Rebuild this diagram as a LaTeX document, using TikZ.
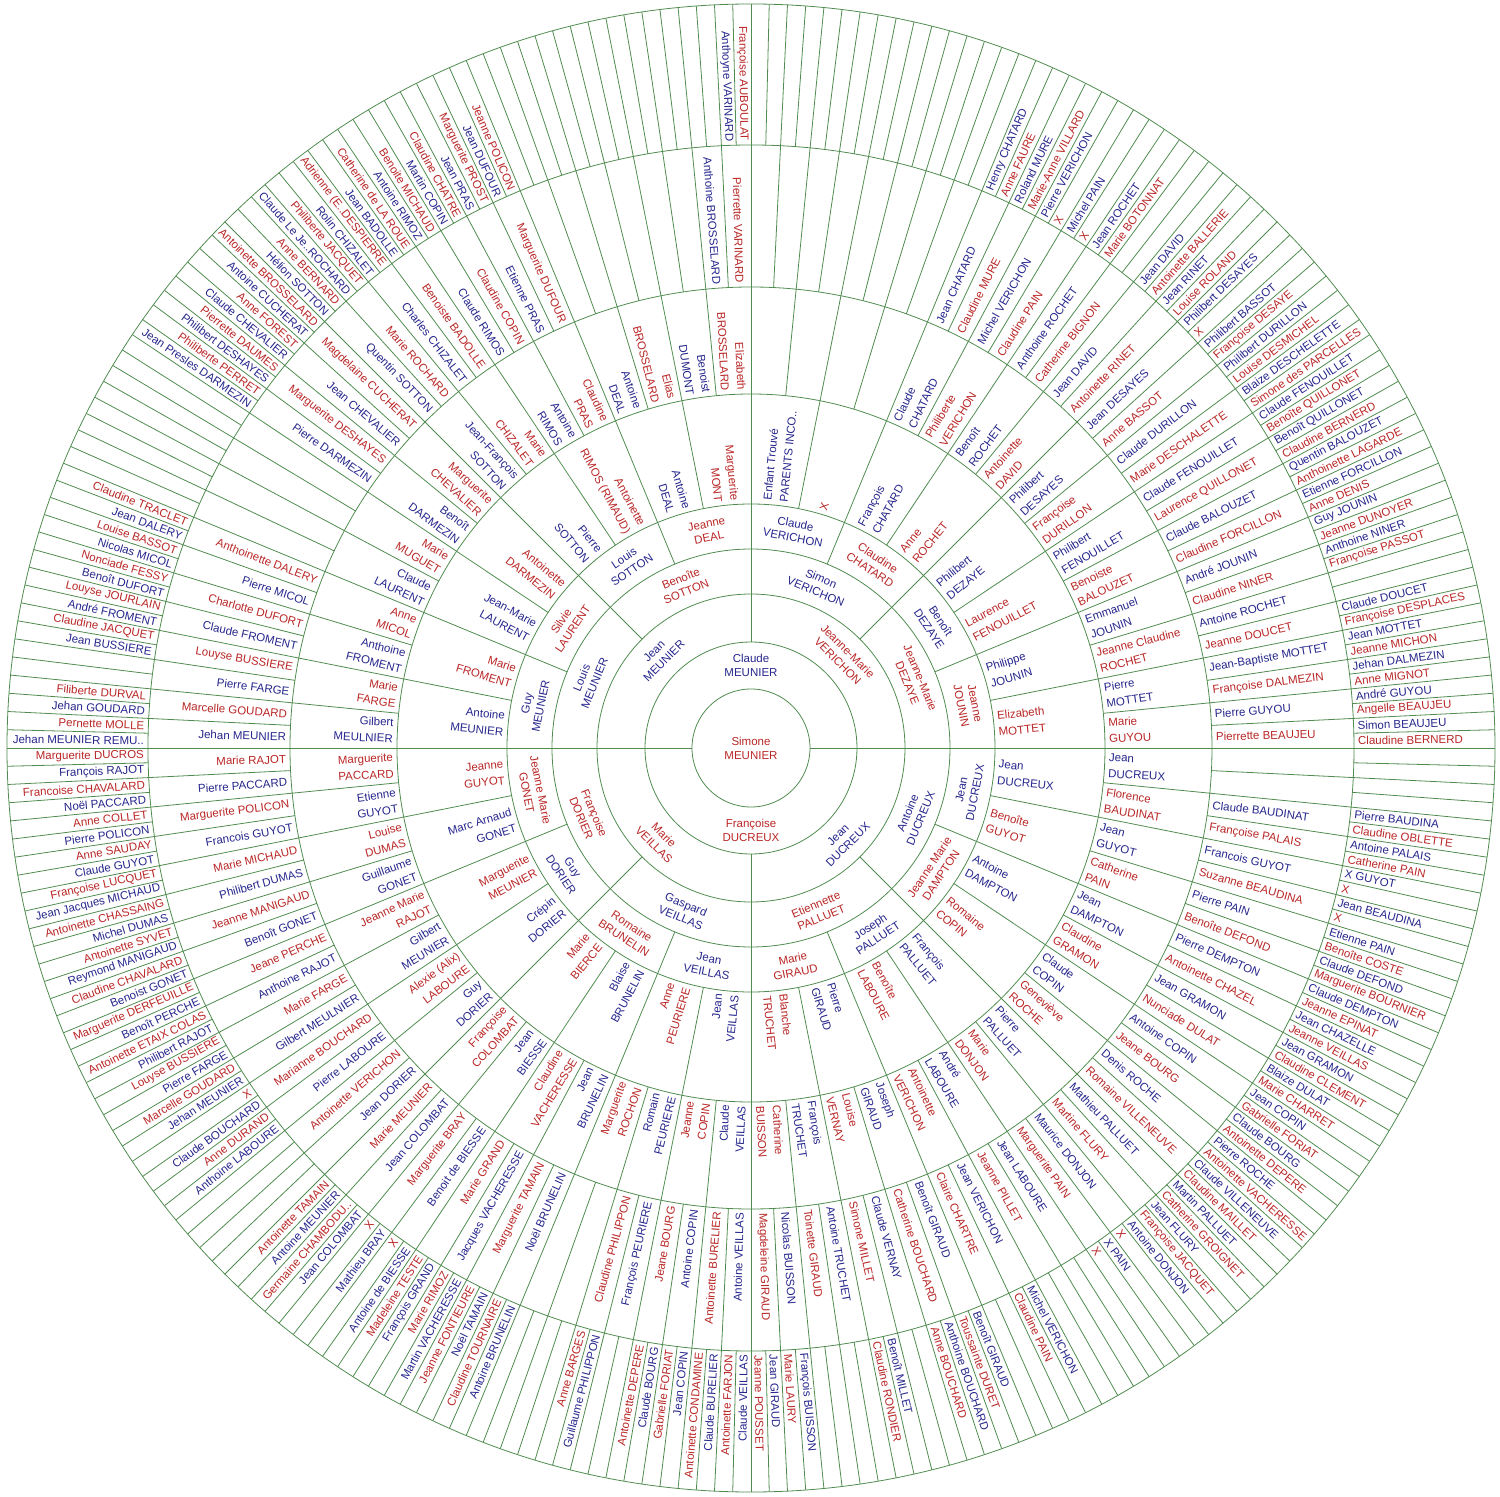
\documentclass[tikz,border=0pt]{standalone}
\usepackage{fontspec}
\setmainfont{Liberation Sans}
\definecolor{Father}{RGB}{38,38,140}
\definecolor{Mother}{RGB}{185,38,38}
\definecolor{Frame}{RGB}{80,140,80}
\newcommand{\ringin}[1]{\ifcase#1\or0\or59\or106\or154\or199\or244\or354\or461\or603\fi}
\newcommand{\ringout}[1]{\ifcase#1\or59\or106\or154\or199\or244\or354\or461\or603\or744\fi}
\newcommand{\tangname}[4]{%
  \pgfmathsetmacro{\ang}{180-(#2+0.5)/2^(#1-1)*360}%
  \pgfmathsetmacro{\rmid}{(\ringin{#1}+\ringout{#1})/2}%
  \pgfmathsetmacro{\tilt}{\ang>0 ? \ang-90 : \ang+90}%
  \ifodd#2\def\tone{Mother}\else\def\tone{Father}\fi
  \node[arcname,text=\tone,rotate=\tilt] (g#1-#2) at (\ang:\rmid) {#3\\#4};
}
\newcommand{\radname}[3]{%
  \pgfmathsetmacro{\ang}{180-(#2+0.5)/2^(#1-1)*360}%
  \pgfmathsetmacro{\rstart}{\ringin{#1}+4}%
  \pgfmathtruncatemacro{\side}{abs(\ang)<90}%
  \ifodd#2\def\tone{Mother}\else\def\tone{Father}\fi
  \ifnum\side=1
    \node[spokename,text=\tone,rotate=\ang,anchor=west,align=left] (g#1-#2) at (\ang:\rstart) {#3};
  \else
    \pgfmathsetmacro{\flip}{\ang-180}%
    \node[spokename,text=\tone,rotate=\flip,anchor=east,align=right] (g#1-#2) at (\ang:\rstart) {#3};
  \fi
}

\begin{document}
\begin{tikzpicture}[x=1pt,y=1pt,
  arcname/.style={inner sep=0pt,align=center,font=\fontsize{11.5}{14}\selectfont},
  spokename/.style={inner sep=0pt,font=\fontsize{11.5}{16.5}\selectfont},
  fanline/.style={Frame,line width=.8pt}]
\path[use as bounding box] (-751,-749) rectangle (749,748);
% rings and spokes
\foreach \r in {59,106,154,199,244,354,461,603,744}
  \draw[fanline] (0,0) circle (\r);
\draw[fanline] (-744,0) -- (-59,0) (59,0) -- (744,0);
\foreach \n/\rin in {4/106,8/154,16/199,32/244,64/354,128/461,256/603}{
  \pgfmathtruncatemacro{\last}{\n/2-1}
  \foreach \m in {0,...,\last}{
    \pgfmathsetmacro{\spoke}{(2*\m+1)/\n*360}
    \draw[fanline] (\spoke:\rin) -- (\spoke:744);
  }
}

\node[arcname,text=Mother] (g1-0) at (0,0) {Simone\\MEUNIER};
\tangname{2}{0}{Claude}{MEUNIER}
\tangname{2}{1}{Françoise}{DUCREUX}

\tangname{3}{0}{Jean}{MEUNIER}
\tangname{3}{1}{Jeanne-Marie}{VERICHON}
\tangname{3}{2}{Jean}{DUCREUX}
\tangname{3}{3}{Marie}{VEILLAS}

\tangname{4}{0}{Louis}{MEUNIER}
\tangname{4}{1}{Benoîte}{SOTTON}
\tangname{4}{2}{Simon}{VERICHON}
\tangname{4}{3}{Jeanne-Marie}{DEZAYE}
\tangname{4}{4}{Antoine}{DUCREUX}
\tangname{4}{5}{Etiennette}{PALLUET}
\tangname{4}{6}{Gaspard}{VEILLAS}
\tangname{4}{7}{Françoise}{DORIER}

\tangname{5}{0}{Guy}{MEUNIER}
\tangname{5}{1}{Silvie}{LAURENT}
\tangname{5}{2}{Louis}{SOTTON}
\tangname{5}{3}{Jeanne}{DEAL}
\tangname{5}{4}{Claude}{VERICHON}
\tangname{5}{5}{Claudine}{CHATARD}
\tangname{5}{6}{Benoît}{DEZAYE}
\tangname{5}{7}{Jeanne}{JOUNIN}
\tangname{5}{8}{Jean}{DUCREUX}
\tangname{5}{9}{Jeanne Marie}{DAMPTON}
\tangname{5}{10}{Joseph}{PALLUET}
\tangname{5}{11}{Marie}{GIRAUD}
\tangname{5}{12}{Jean}{VEILLAS}
\tangname{5}{13}{Romaine}{BRUNELIN}
\tangname{5}{14}{Guy}{DORIER}
\tangname{5}{15}{Jeanne Marie}{GONET}

\radname{6}{0}{Antoine\\MEUNIER}
\radname{6}{1}{Marie\\FROMENT}
\radname{6}{2}{Jean-Marie\\LAURENT}
\radname{6}{3}{Antoinette\\DARMEZIN}
\radname{6}{4}{Pierre\\SOTTON}
\radname{6}{5}{Antoinette\\RIMOS (RIMAUD)}
\radname{6}{6}{Antoine\\DEAL}
\radname{6}{7}{Marguerite\\MONT}
\radname{6}{8}{Enfant Trouvé\\PARENTS INCO..}
\radname{6}{9}{X}
\radname{6}{10}{François\\CHATARD}
\radname{6}{11}{Anne\\ROCHET}
\radname{6}{12}{Philibert\\DEZAYE}
\radname{6}{13}{Laurence\\FENOUILLET}
\radname{6}{14}{Philippe\\JOUNIN}
\radname{6}{15}{Elizabeth\\MOTTET}
\radname{6}{16}{Jean\\DUCREUX}
\radname{6}{17}{Benoîte\\GUYOT}
\radname{6}{18}{Antoine\\DAMPTON}
\radname{6}{19}{Romaine\\COPIN}
\radname{6}{20}{François\\PALLUET}
\radname{6}{21}{Benoîte\\LABOURE}
\radname{6}{22}{Pierre\\GIRAUD}
\radname{6}{23}{Blanche\\TRUCHET}
\radname{6}{24}{Jean\\VEILLAS}
\radname{6}{25}{Anne\\PEURIERE}
\radname{6}{26}{Blaise\\BRUNELIN}
\radname{6}{27}{Marie\\BIERCE}
\radname{6}{28}{Crépin\\DORIER}
\radname{6}{29}{Marguerite\\MEUNIER}
\radname{6}{30}{Marc Arnaud\\GONET}
\radname{6}{31}{Jeanne\\GUYOT}

\radname{7}{0}{Gilbert\\MEULNIER}
\radname{7}{1}{Marie\\FARGE}
\radname{7}{2}{Anthoine\\FROMENT}
\radname{7}{3}{Anne\\MICOL}
\radname{7}{4}{Claude\\LAURENT}
\radname{7}{5}{Marie\\MUGUET}
\radname{7}{6}{Benoît\\DARMEZIN}
\radname{7}{7}{Marguerite\\CHEVALIER}
\radname{7}{8}{Jean-François\\SOTTON}
\radname{7}{9}{Marie\\CHIZALET}
\radname{7}{10}{Antoine\\RIMOS}
\radname{7}{11}{Claudine\\PRAS}
\radname{7}{12}{Antoine\\DEAL}
\radname{7}{13}{Elias\\BROSSELARD}
\radname{7}{14}{Benoist\\DUMONT}
\radname{7}{15}{Elizabeth\\BROSSELARD}
\radname{7}{20}{Claude\\CHATARD}
\radname{7}{21}{Philiberte\\VERICHON}
\radname{7}{22}{Benoît\\ROCHET}
\radname{7}{23}{Antoinette\\DAVID}
\radname{7}{24}{Philibert\\DESAYES}
\radname{7}{25}{Françoise\\DURILLON}
\radname{7}{26}{Philibert\\FENOUILLET}
\radname{7}{27}{Benoiste\\BALOUZET}
\radname{7}{28}{Emmanuel\\JOUNIN}
\radname{7}{29}{Jeanne Claudine\\ROCHET}
\radname{7}{30}{Pierre\\MOTTET}
\radname{7}{31}{Marie\\GUYOU}
\radname{7}{32}{Jean\\DUCREUX}
\radname{7}{33}{Florence\\BAUDINAT}
\radname{7}{34}{Jean\\GUYOT}
\radname{7}{35}{Catherine\\PAIN}
\radname{7}{36}{Jean\\DAMPTON}
\radname{7}{37}{Claudine\\GRAMON}
\radname{7}{38}{Claude\\COPIN}
\radname{7}{39}{Geneviève\\ROCHE}
\radname{7}{40}{Pierre\\PALLUET}
\radname{7}{41}{Marie\\DONJON}
\radname{7}{42}{André\\LABOURE}
\radname{7}{43}{Antoinette\\VERICHON}
\radname{7}{44}{Joseph\\GIRAUD}
\radname{7}{45}{Louise\\VERNAY}
\radname{7}{46}{François\\TRUCHET}
\radname{7}{47}{Catherine\\BUISSON}
\radname{7}{48}{Claude\\VEILLAS}
\radname{7}{49}{Jeanne\\COPIN}
\radname{7}{50}{Romain\\PEURIERE}
\radname{7}{51}{Marguerite\\ROCHON}
\radname{7}{52}{Jean\\BRUNELIN}
\radname{7}{53}{Claudine\\VACHERESSE}
\radname{7}{54}{Jean\\BIESSE}
\radname{7}{55}{Françoise\\COLOMBAT}
\radname{7}{56}{Guy\\DORIER}
\radname{7}{57}{Alexie (Alix)\\LABOURE}
\radname{7}{58}{Gilbert\\MEUNIER}
\radname{7}{59}{Jeanne Marie\\RAJOT}
\radname{7}{60}{Guillaume\\GONET}
\radname{7}{61}{Louise\\DUMAS}
\radname{7}{62}{Etienne\\GUYOT}
\radname{7}{63}{Marguerite\\PACCARD}

\radname{8}{0}{Jehan MEUNIER}
\radname{8}{1}{Marcelle GOUDARD}
\radname{8}{2}{Pierre FARGE}
\radname{8}{3}{Louyse BUSSIERE}
\radname{8}{4}{Claude FROMENT}
\radname{8}{5}{Charlotte DUFORT}
\radname{8}{6}{Pierre MICOL}
\radname{8}{7}{Anthoinette DALERY}
\radname{8}{12}{Pierre DARMEZIN}
\radname{8}{13}{Marguerite DESHAYES}
\radname{8}{14}{Jean CHEVALIER}
\radname{8}{15}{Magdelaine CUCHERAT}
\radname{8}{16}{Quentin SOTTON}
\radname{8}{17}{Marie ROCHARD}
\radname{8}{18}{Charles CHIZALET}
\radname{8}{19}{Benoiste BADOLLE}
\radname{8}{20}{Claude RIMOS}
\radname{8}{21}{Claudine COPIN}
\radname{8}{22}{Etienne PRAS}
\radname{8}{23}{Marguerite DUFOUR}
\radname{8}{30}{Anthoine BROSSELARD}
\radname{8}{31}{Pierrette VARINARD}
\radname{8}{40}{Jean CHATARD}
\radname{8}{41}{Claudine MURE}
\radname{8}{42}{Michel VERICHON}
\radname{8}{43}{Claudine PAIN}
\radname{8}{44}{Anthoine ROCHET}
\radname{8}{45}{Catherine BIGNON}
\radname{8}{46}{Jean DAVID}
\radname{8}{47}{Antoinette RINET}
\radname{8}{48}{Jean DESAYES}
\radname{8}{49}{Anne BASSOT}
\radname{8}{50}{Claude DURILLON}
\radname{8}{51}{Marie DESCHALETTE}
\radname{8}{52}{Claude FENOUILLET}
\radname{8}{53}{Laurence QUILLONET}
\radname{8}{54}{Claude BALOUZET}
\radname{8}{55}{Claudine FORCILLON}
\radname{8}{56}{André JOUNIN}
\radname{8}{57}{Claudine NINER}
\radname{8}{58}{Antoine ROCHET}
\radname{8}{59}{Jeanne DOUCET}
\radname{8}{60}{Jean-Baptiste MOTTET}
\radname{8}{61}{Françoise DALMEZIN}
\radname{8}{62}{Pierre GUYOU}
\radname{8}{63}{Pierrette BEAUJEU}
\radname{8}{66}{Claude BAUDINAT}
\radname{8}{67}{Françoise PALAIS}
\radname{8}{68}{Francois GUYOT}
\radname{8}{69}{Suzanne BEAUDINA}
\radname{8}{70}{Pierre PAIN}
\radname{8}{71}{Benoîte DEFOND}
\radname{8}{72}{Pierre DEMPTON}
\radname{8}{73}{Antoinette CHAZEL}
\radname{8}{74}{Jean GRAMON}
\radname{8}{75}{Nunciade DULAT}
\radname{8}{76}{Antoine COPIN}
\radname{8}{77}{Jeane BOURG}
\radname{8}{78}{Denis ROCHE}
\radname{8}{79}{Romaine VILLENEUVE}
\radname{8}{80}{Mathieu PALLUET}
\radname{8}{81}{Martine FLURY}
\radname{8}{82}{Maurice DONJON}
\radname{8}{83}{Marguerite PAIN}
\radname{8}{84}{Jean LABOURE}
\radname{8}{85}{Jeanne PILLET}
\radname{8}{86}{Jean VERICHON}
\radname{8}{87}{Claire CHARTRE}
\radname{8}{88}{Benoît GIRAUD}
\radname{8}{89}{Catherine BOUCHARD}
\radname{8}{90}{Claude VERNAY}
\radname{8}{91}{Simone MILLET}
\radname{8}{92}{Antoine TRUCHET}
\radname{8}{93}{Toinette GIRAUD}
\radname{8}{94}{Nicolas BUISSON}
\radname{8}{95}{Magdeleine GIRAUD}
\radname{8}{96}{Antoine VEILLAS}
\radname{8}{97}{Antoinette BURELIER}
\radname{8}{98}{Antoine COPIN}
\radname{8}{99}{Jeane BOURG}
\radname{8}{100}{François PEURIERE}
\radname{8}{101}{Claudine PHILIPPON}
\radname{8}{104}{Noël BRUNELIN}
\radname{8}{105}{Marguerite TAMAIN}
\radname{8}{106}{Jacques VACHERESSE}
\radname{8}{107}{Marie GRAND}
\radname{8}{108}{Benoit de BIESSE}
\radname{8}{109}{Marguerite BRAY}
\radname{8}{110}{Jean COLOMBAT}
\radname{8}{111}{Marie MEUNIER}
\radname{8}{112}{Jean DORIER}
\radname{8}{113}{Antoinette VERICHON}
\radname{8}{114}{Pierre LABOURE}
\radname{8}{115}{Marianne BOUCHARD}
\radname{8}{116}{Gilbert MEULNIER}
\radname{8}{117}{Marie FARGE}
\radname{8}{118}{Anthoine RAJOT}
\radname{8}{119}{Jeane PERCHE}
\radname{8}{120}{Benoît GONET}
\radname{8}{121}{Jeanne MANIGAUD}
\radname{8}{122}{Philibert DUMAS}
\radname{8}{123}{Marie MICHAUD}
\radname{8}{124}{Francois GUYOT}
\radname{8}{125}{Marguerite POLICON}
\radname{8}{126}{Pierre PACCARD}
\radname{8}{127}{Marie RAJOT}

\radname{9}{0}{Jehan MEUNIER REMU..}
\radname{9}{1}{Pernette MOLLE}
\radname{9}{2}{Jehan GOUDARD}
\radname{9}{3}{Filiberte DURVAL}
\radname{9}{6}{Jean BUSSIERE}
\radname{9}{7}{Claudine JACQUET}
\radname{9}{8}{André FROMENT}
\radname{9}{9}{Louyse JOURLAIN}
\radname{9}{10}{Benoît DUFORT}
\radname{9}{11}{Nonciade FESSY}
\radname{9}{12}{Nicolas MICOL}
\radname{9}{13}{Louise BASSOT}
\radname{9}{14}{Jean DALERY}
\radname{9}{15}{Claudine TRACLET}
\radname{9}{24}{Jean Presles DARMEZIN}
\radname{9}{25}{Philiberte PERRET}
\radname{9}{26}{Philibert DESHAYES}
\radname{9}{27}{Pierrette DAUMES}
\radname{9}{28}{Claude CHEVALIER}
\radname{9}{29}{Anne FOREST}
\radname{9}{30}{Antoine CUCHERAT}
\radname{9}{31}{Antoinette BROSSELARD}
\radname{9}{32}{Hélion SOTTON}
\radname{9}{33}{Anne BERNARD}
\radname{9}{34}{Claude Le Je..ROCHARD}
\radname{9}{35}{Philiberte JACQUET}
\radname{9}{36}{Rolin CHIZALET}
\radname{9}{37}{Adrienne (E..DESPIERRE}
\radname{9}{38}{Jean BADOLLE}
\radname{9}{39}{Catherine de LA ROUE}
\radname{9}{40}{Antoine RIMOZ}
\radname{9}{41}{Benoite MICHAUD}
\radname{9}{42}{Martin COPIN}
\radname{9}{43}{Claudine CHATRE}
\radname{9}{44}{Jean PRAS}
\radname{9}{45}{Marguerite PROST}
\radname{9}{46}{Jean DUFOUR}
\radname{9}{47}{Jeanne POLICON}
\radname{9}{62}{Anthoyne VARINARD}
\radname{9}{63}{Françoise AUBOULAT}
\radname{9}{80}{Henry CHATARD}
\radname{9}{81}{Anne FAURE}
\radname{9}{82}{Roland MURE}
\radname{9}{83}{Marie-Anne VILLARD}
\radname{9}{84}{Pierre VERICHON}
\radname{9}{85}{X}
\radname{9}{86}{Michel PAIN}
\radname{9}{87}{X}
\radname{9}{88}{Jean ROCHET}
\radname{9}{89}{Marie BOTONNAT}
\radname{9}{92}{Jean DAVID}
\radname{9}{93}{Antoinette BALLERIE}
\radname{9}{94}{Jean RINET}
\radname{9}{95}{Louise ROLAND}
\radname{9}{96}{Philibert DESAYES}
\radname{9}{97}{X}
\radname{9}{98}{Philibert BASSOT}
\radname{9}{99}{Françoise DESAYE}
\radname{9}{100}{Philibert DURILLON}
\radname{9}{101}{Louise DESMICHEL}
\radname{9}{102}{Blaize DESCHELETTE}
\radname{9}{103}{Simone des PARCELLES}
\radname{9}{104}{Claude FENOUILLET}
\radname{9}{105}{Benoîte QUILLONET}
\radname{9}{106}{Benoît QUILLONET}
\radname{9}{107}{Claudine BERNERD}
\radname{9}{108}{Quentin BALOUZET}
\radname{9}{109}{Anthoinette LAGARDE}
\radname{9}{110}{Etienne FORCILLON}
\radname{9}{111}{Anne DENIS}
\radname{9}{112}{Guy JOUNIN}
\radname{9}{113}{Jeanne DUNOYER}
\radname{9}{114}{Anthoine NINER}
\radname{9}{115}{Françoise PASSOT}
\radname{9}{118}{Claude DOUCET}
\radname{9}{119}{Françoise DESPLACES}
\radname{9}{120}{Jean MOTTET}
\radname{9}{121}{Jeanne MICHON}
\radname{9}{122}{Jehan DALMEZIN}
\radname{9}{123}{Anne MIGNOT}
\radname{9}{124}{André GUYOU}
\radname{9}{125}{Angelle BEAUJEU}
\radname{9}{126}{Simon BEAUJEU}
\radname{9}{127}{Claudine BERNERD}
\radname{9}{132}{Pierre BAUDINA}
\radname{9}{133}{Claudine OBLETTE}
\radname{9}{134}{Antoine PALAIS}
\radname{9}{135}{Catherine PAIN}
\radname{9}{136}{X GUYOT}
\radname{9}{137}{X}
\radname{9}{138}{Jean BEAUDINA}
\radname{9}{139}{X}
\radname{9}{140}{Etienne PAIN}
\radname{9}{141}{Benoîte COSTE}
\radname{9}{142}{Claude DEFOND}
\radname{9}{143}{Marguerite BOURNIER}
\radname{9}{144}{Claude DEMPTON}
\radname{9}{145}{Jeanne EPINAT}
\radname{9}{146}{Jean CHAZELLE}
\radname{9}{147}{Jeanne VEILLAS}
\radname{9}{148}{Jean GRAMON}
\radname{9}{149}{Claudine CLEMENT}
\radname{9}{150}{Blaize DULAT}
\radname{9}{151}{Marie CHARRET}
\radname{9}{152}{Jean COPIN}
\radname{9}{153}{Gabrielle FORIAT}
\radname{9}{154}{Claude BOURG}
\radname{9}{155}{Antoinette DEPERE}
\radname{9}{156}{Pierre ROCHE}
\radname{9}{157}{Antoinette VACHERESSE}
\radname{9}{158}{Claude VILLENEUVE}
\radname{9}{159}{Claudine MAILLET}
\radname{9}{160}{Martin PALLUET}
\radname{9}{161}{Catherine GROIGNET}
\radname{9}{162}{Jean FLURY}
\radname{9}{163}{Françoise JACQUET}
\radname{9}{164}{Antoine DONJON}
\radname{9}{165}{X}
\radname{9}{166}{X PAIN}
\radname{9}{167}{X}
\radname{9}{172}{Michel VERICHON}
\radname{9}{173}{Claudine PAIN}
\radname{9}{176}{Benoît GIRAUD}
\radname{9}{177}{Toussainte DURET}
\radname{9}{178}{Anthoine BOUCHARD}
\radname{9}{179}{Anne BOUCHARD}
\radname{9}{182}{Benoît MILLET}
\radname{9}{183}{Claudine RONDIER}
\radname{9}{188}{François BUISSON}
\radname{9}{189}{Marie LAURY}
\radname{9}{190}{Jean GIRAUD}
\radname{9}{191}{Jeanne POUSSET}
\radname{9}{192}{Claude VEILLAS}
\radname{9}{193}{Antoinette FARJON}
\radname{9}{194}{Claude BURELIER}
\radname{9}{195}{Antoinette CONDAMINE}
\radname{9}{196}{Jean COPIN}
\radname{9}{197}{Gabrielle FORIAT}
\radname{9}{198}{Claude BOURG}
\radname{9}{199}{Antoinette DEPERE}
\radname{9}{202}{Guillaume PHILIPPON}
\radname{9}{203}{Anne BARGES}
\radname{9}{208}{Antoine BRUNELIN}
\radname{9}{209}{Claudine TOURNAIRE}
\radname{9}{210}{Noël TAMAIN}
\radname{9}{211}{Jeanne FONTIEURE}
\radname{9}{212}{Martin VACHERESSE}
\radname{9}{213}{Marie RIMOZ}
\radname{9}{214}{François GRAND}
\radname{9}{215}{Madeleine TESTE}
\radname{9}{216}{Antoine de BIESSE}
\radname{9}{217}{X}
\radname{9}{218}{Mathieu BRAY}
\radname{9}{219}{X}
\radname{9}{220}{Jean COLOMBAT}
\radname{9}{221}{Germaine CHAMBODU..}
\radname{9}{222}{Antoine MEUNIER}
\radname{9}{223}{Antoinette TAMAIN}
\radname{9}{228}{Anthoine LABOURE}
\radname{9}{229}{Anne DURAND}
\radname{9}{230}{Claude BOUCHARD}
\radname{9}{231}{X}
\radname{9}{232}{Jehan MEUNIER}
\radname{9}{233}{Marcelle GOUDARD}
\radname{9}{234}{Pierre FARGE}
\radname{9}{235}{Louyse BUSSIERE}
\radname{9}{236}{Philibert RAJOT}
\radname{9}{237}{Antoinette ETAIX COLAS}
\radname{9}{238}{Benoît PERCHE}
\radname{9}{239}{Marguerite DERFEUILLE}
\radname{9}{240}{Benoist GONET}
\radname{9}{241}{Claudine CHAVALARD}
\radname{9}{242}{Reymond MANIGAUD}
\radname{9}{243}{Antoinette SYVET}
\radname{9}{244}{Michel DUMAS}
\radname{9}{245}{Antoinette CHASSAING}
\radname{9}{246}{Jean Jacques MICHAUD}
\radname{9}{247}{Françoise LUCQUET}
\radname{9}{248}{Claude GUYOT}
\radname{9}{249}{Anne SAUDAY}
\radname{9}{250}{Pierre POLICON}
\radname{9}{251}{Anne COLLET}
\radname{9}{252}{Noël PACCARD}
\radname{9}{253}{Francoise CHAVALARD}
\radname{9}{254}{François RAJOT}
\radname{9}{255}{Marguerite DUCROS}
\end{tikzpicture}
\end{document}
